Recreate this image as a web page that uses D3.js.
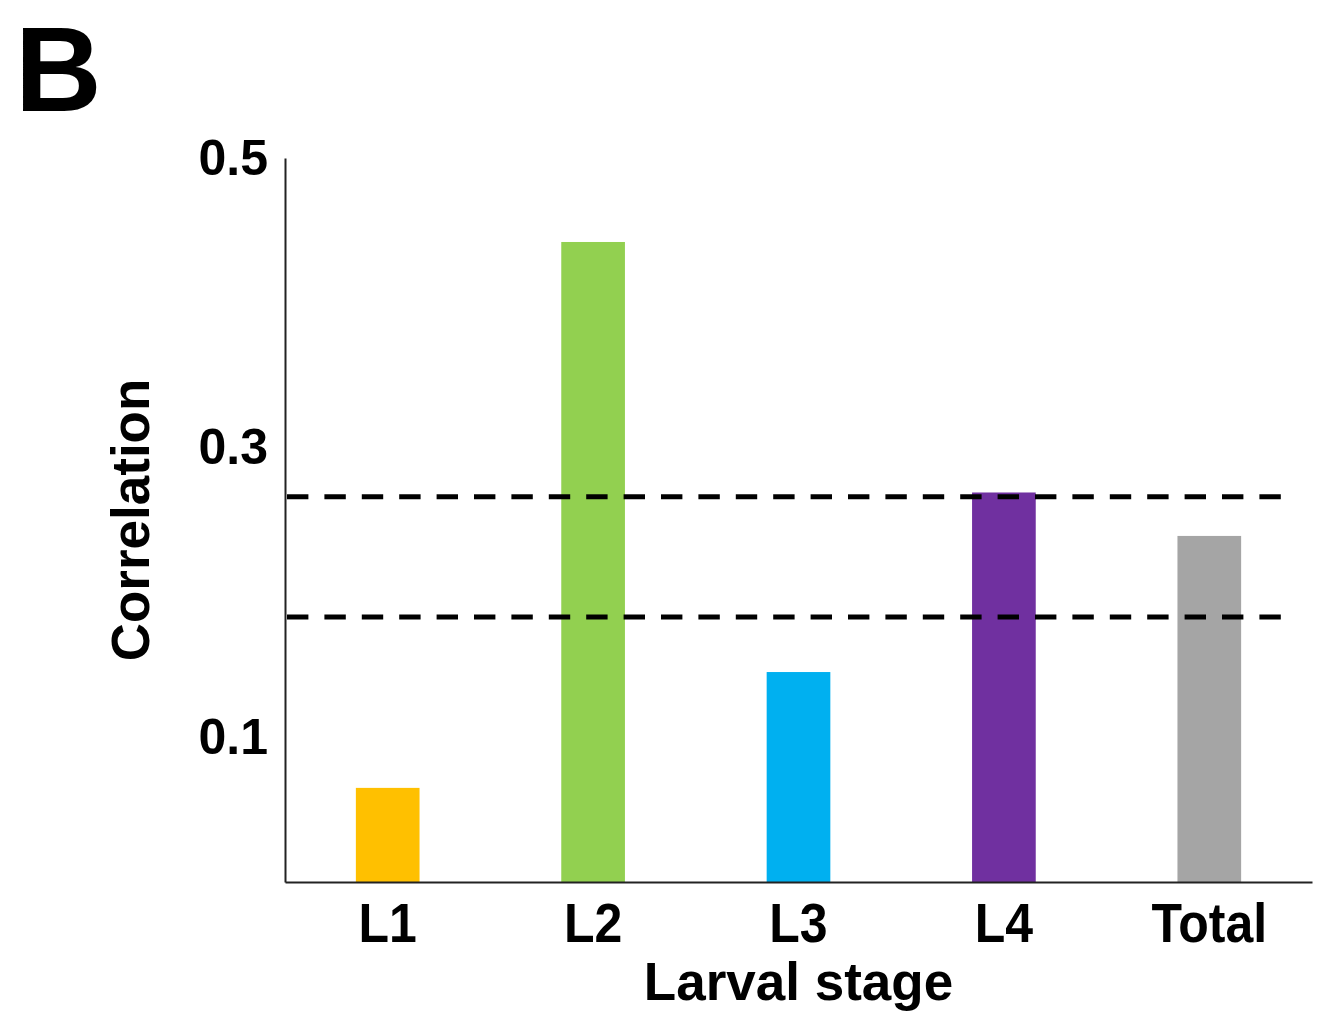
<!DOCTYPE html>
<html>
<head>
<meta charset="utf-8">
<script src="https://cdn.jsdelivr.net/npm/d3@7/dist/d3.min.js"></script>
<style>
  html, body { margin: 0; padding: 0; background: #fff; }
  svg { display: block; }
  text { font-family: "Liberation Sans", Arial, Helvetica, sans-serif; font-weight: bold; fill: #000; }
</style>
</head>
<body>
<svg id="chart" width="1321" height="1012"></svg>
<script>
// Correlation by larval stage
const stages = ["L1", "L2", "L3", "L4", "Total"];
const correlations = [0.065, 0.442, 0.145, 0.269, 0.239];
const barColors = ["#FFC000", "#92D050", "#00B0F0", "#7030A0", "#A5A5A5"];
const yTicks = [0.1, 0.3, 0.5];
const thresholds = [0.266, 0.183];

const svg = d3.select("#chart");
const plotLeft = 285, plotRight = 1312, plotTop = 158, plotBottom = 882;

const x = d3.scaleBand()
  .domain(stages)
  .range([plotLeft, plotRight])
  .paddingInner(0.69)
  .paddingOuter(0.345);

const y = d3.scaleLinear().domain([0, 0.5]).range([plotBottom, plotTop]);

// bars
svg.append("g").selectAll("rect")
  .data(stages)
  .join("rect")
  .attr("x", d => x(d))
  .attr("width", x.bandwidth())
  .attr("y", (d, i) => y(correlations[i]))
  .attr("height", (d, i) => plotBottom - y(correlations[i]))
  .attr("fill", (d, i) => barColors[i]);

// threshold lines
svg.append("g").selectAll("line")
  .data(thresholds)
  .join("line")
  .attr("x1", plotLeft + 2)
  .attr("x2", 1281)
  .attr("y1", d => y(d))
  .attr("y2", d => y(d))
  .attr("stroke", "#000")
  .attr("stroke-width", 5)
  .attr("stroke-dasharray", "21.4 16");

// y axis
const yAxis = d3.axisLeft(y).tickValues(yTicks).tickSize(0).tickPadding(17)
  .tickFormat(d3.format(".1f"));
const gy = svg.append("g").attr("transform", `translate(${plotLeft},0)`).call(yAxis);
gy.select(".domain").attr("stroke", "#222").attr("stroke-width", 2);
gy.selectAll("text")
  .style("font-size", "50px")
  .style("font-family", "'Liberation Sans', Arial, sans-serif")
  .style("font-weight", "bold")
  .attr("fill", "#000");

// x axis
const xAxis = d3.axisBottom(x).tickSize(0).tickPadding(19);
const gx = svg.append("g").attr("transform", `translate(0,${plotBottom})`).call(xAxis);
gx.select(".domain").attr("stroke", "#222").attr("stroke-width", 2);
gx.selectAll("text")
  .style("font-size", "50px")
  .style("font-family", "'Liberation Sans', Arial, sans-serif")
  .style("font-weight", "bold")
  .attr("transform", "scale(1,1.1)")
  .attr("fill", "#000");

// axis titles
svg.append("text")
  .attr("x", (plotLeft + plotRight) / 2)
  .attr("y", 1000)
  .attr("text-anchor", "middle")
  .style("font-size", "53px")
  .text("Larval stage");

svg.append("text")
  .attr("transform", "translate(149,520) rotate(-90)")
  .attr("text-anchor", "middle")
  .style("font-size", "53px")
  .text("Correlation");

// panel letter
svg.append("text")
  .attr("x", 15)
  .attr("y", 111)
  .style("font-size", "120px")
  .text("B");
</script>
</body>
</html>
